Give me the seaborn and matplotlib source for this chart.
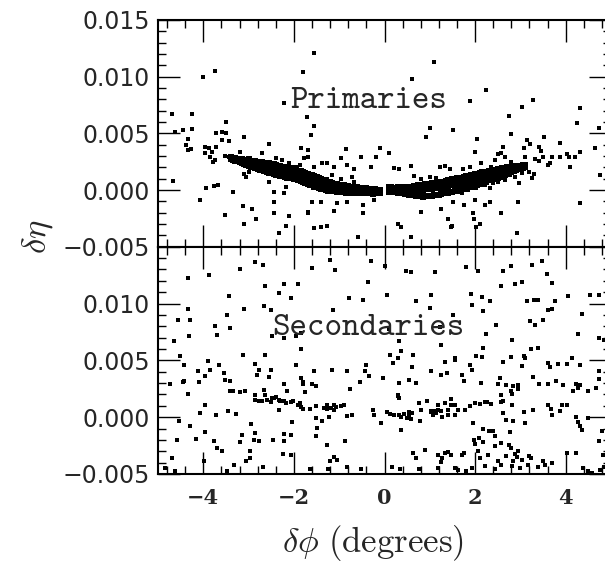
import pandas as pd
import seaborn as sns
import matplotlib.pyplot as plt
from matplotlib.ticker import MultipleLocator, FuncFormatter

# eta values are in units of 1e-3 (converted when plotted)

# dense band of the primaries: (dphi, eta upper, eta middle, eta lower)
band_left = [
    (-3.40, 2.90, 2.80, 2.72), (-3.35, 2.85, 2.75, 2.66), (-3.30, 2.82, 2.70, 2.58),
    (-3.25, 2.78, 2.65, 2.52), (-3.20, 2.75, 2.60, 2.45), (-3.15, 2.70, 2.55, 2.38),
    (-3.10, 2.68, 2.48, 2.30), (-3.05, 2.65, 2.45, 2.22), (-3.00, 2.70, 2.40, 2.10),
    (-2.95, 2.60, 2.35, 2.05), (-2.90, 2.60, 2.30, 2.00), (-2.85, 2.55, 2.20, 1.95),
    (-2.80, 2.50, 2.20, 1.85), (-2.75, 2.45, 2.15, 1.80), (-2.70, 2.45, 2.10, 1.75),
    (-2.65, 2.40, 2.05, 1.65), (-2.60, 2.40, 2.00, 1.60), (-2.55, 2.35, 1.95, 1.50),
    (-2.50, 2.30, 1.90, 1.50), (-2.45, 2.30, 1.85, 1.40), (-2.40, 2.25, 1.80, 1.35),
    (-2.35, 2.15, 1.75, 1.30), (-2.30, 2.15, 1.70, 1.25), (-2.25, 2.05, 1.65, 1.20),
    (-2.20, 2.05, 1.60, 1.15), (-2.15, 1.95, 1.55, 1.10), (-2.10, 1.95, 1.55, 1.05),
    (-2.05, 1.90, 1.50, 1.05), (-2.00, 1.85, 1.45, 1.00), (-1.95, 1.75, 1.35, 0.95),
    (-1.90, 1.70, 1.30, 0.85), (-1.85, 1.65, 1.20, 0.80), (-1.80, 1.60, 1.15, 0.70),
    (-1.75, 1.50, 1.05, 0.65), (-1.70, 1.45, 1.00, 0.55), (-1.65, 1.35, 0.95, 0.45),
    (-1.60, 1.30, 0.85, 0.40), (-1.55, 1.20, 0.80, 0.30), (-1.50, 1.15, 0.70, 0.25),
    (-1.45, 1.05, 0.65, 0.15), (-1.40, 0.95, 0.55, 0.10), (-1.35, 0.90, 0.50, 0.05),
    (-1.30, 0.85, 0.45, 0.00), (-1.25, 0.75, 0.40, -0.05), (-1.20, 0.70, 0.35, -0.10),
    (-1.15, 0.60, 0.30, -0.10), (-1.10, 0.55, 0.25, -0.10), (-1.05, 0.50, 0.20, -0.15),
    (-1.00, 0.45, 0.15, -0.15), (-0.95, 0.45, 0.10, -0.20), (-0.90, 0.40, 0.10, -0.20),
    (-0.85, 0.35, 0.05, -0.25), (-0.80, 0.35, 0.05, -0.25), (-0.75, 0.30, 0.00, -0.25),
    (-0.70, 0.30, 0.00, -0.30), (-0.65, 0.25, 0.00, -0.30), (-0.60, 0.25, -0.05, -0.30),
    (-0.55, 0.20, -0.05, -0.30), (-0.50, 0.20, -0.05, -0.30), (-0.45, 0.15, -0.05, -0.30),
    (-0.40, 0.15, -0.05, -0.30), (-0.35, 0.10, -0.10, -0.30), (-0.30, 0.10, -0.10, -0.30),
    (-0.25, 0.05, -0.10, -0.35), (-0.20, 0.05, -0.10, -0.30), (-0.15, 0.00, -0.15, -0.30),
    (-0.10, 0.00, -0.15, -0.25),
]
band_right = [
    (0.10, 0.25, 0.05, -0.15), (0.15, 0.25, 0.05, -0.15), (0.20, 0.20, 0.00, -0.20),
    (0.25, 0.20, 0.00, -0.20), (0.30, 0.25, 0.00, -0.25), (0.35, 0.20, -0.05, -0.25),
    (0.40, 0.25, -0.05, -0.30), (0.45, 0.25, -0.05, -0.35), (0.50, 0.25, -0.05, -0.35),
    (0.55, 0.30, -0.05, -0.40), (0.60, 0.30, -0.05, -0.40), (0.65, 0.35, -0.05, -0.45),
    (0.70, 0.35, 0.00, -0.50), (0.75, 0.40, 0.00, -0.55), (0.80, 0.45, 0.00, -0.55),
    (0.85, 0.45, 0.00, -0.60), (0.90, 0.50, 0.05, -0.55), (0.95, 0.50, 0.05, -0.55),
    (1.00, 0.55, 0.05, -0.55), (1.05, 0.60, 0.10, -0.50), (1.10, 0.60, 0.15, -0.45),
    (1.15, 0.65, 0.15, -0.45), (1.20, 0.70, 0.20, -0.40), (1.25, 0.70, 0.25, -0.35),
    (1.30, 0.75, 0.25, -0.30), (1.35, 0.80, 0.30, -0.25), (1.40, 0.85, 0.35, -0.25),
    (1.45, 0.90, 0.40, -0.20), (1.50, 0.95, 0.40, -0.15), (1.55, 1.00, 0.45, -0.10),
    (1.60, 1.05, 0.50, -0.05), (1.65, 1.05, 0.55, 0.00), (1.70, 1.10, 0.60, 0.05),
    (1.75, 1.15, 0.65, 0.10), (1.80, 1.20, 0.70, 0.15), (1.85, 1.25, 0.75, 0.25),
    (1.90, 1.30, 0.80, 0.30), (1.95, 1.35, 0.85, 0.35), (2.00, 1.40, 0.90, 0.40),
    (2.05, 1.45, 0.95, 0.45), (2.10, 1.50, 1.00, 0.55), (2.15, 1.55, 1.05, 0.60),
    (2.20, 1.55, 1.10, 0.70), (2.25, 1.60, 1.15, 0.75), (2.30, 1.65, 1.20, 0.85),
    (2.35, 1.70, 1.25, 0.90), (2.40, 1.75, 1.30, 0.95), (2.45, 1.80, 1.35, 1.05),
    (2.50, 1.85, 1.40, 1.10), (2.55, 1.85, 1.45, 1.15), (2.60, 1.90, 1.55, 1.25),
    (2.65, 1.95, 1.60, 1.30), (2.70, 2.00, 1.65, 1.40), (2.75, 2.05, 1.70, 1.45),
    (2.80, 2.05, 1.80, 1.55), (2.85, 2.05, 1.85, 1.65), (2.90, 2.08, 1.92, 1.74),
    (2.95, 2.12, 1.97, 1.82), (3.00, 2.16, 2.02, 1.90), (3.05, 2.18, 2.07, 1.97),
    (3.10, 2.22, 2.12, 2.04),
]

# isolated primaries (dphi, eta)
prim_scatter = [
    (-4.00, 10.00), (-3.75, 10.50), (-1.81, 10.40), (-2.22, 7.70), (-4.70, 6.70), (-4.24, 6.70),
    (-3.50, 6.00), (-4.62, 5.10), (-4.44, 5.30), (-4.24, 5.35), (-3.72, 5.00), (-3.59, 5.15),
    (-3.49, 5.00), (-3.11, 4.70), (-3.59, 4.40), (-3.43, 4.35), (-4.33, 4.50), (-4.39, 3.97),
    (-4.33, 3.50), (-4.27, 3.60), (-3.97, 3.76), (-3.88, 3.68), (-3.71, 3.82), (-3.81, 3.38),
    (-3.96, 3.24), (-3.85, 2.94), (-3.75, 2.65), (-3.79, 2.44), (-3.18, 3.38), (-2.70, 3.24),
    (-2.55, 4.03), (-3.52, 3.00), (-3.44, 2.88), (-2.40, 2.80), (-2.27, 2.65), (-2.11, 2.41),
    (-1.96, 2.06), (-1.87, 2.18), (-1.78, 1.62), (-1.67, 1.32), (-1.85, 3.74), (-1.70, 2.94),
    (-3.11, 1.41), (-3.00, 1.62), (-3.06, 1.18), (-2.55, 0.74), (-2.44, -0.15), (-2.22, -0.29),
    (-2.17, 0.29), (-4.68, 0.82), (-3.94, 0.15), (-3.77, 0.38), (-3.68, 0.44), (-3.35, -0.20),
    (-4.07, -0.88), (-3.13, -1.38), (-2.92, -1.71), (-2.44, -1.03), (-2.83, -2.59), (-3.53, -2.21),
    (-2.44, -2.06), (-2.11, -2.29), (-2.32, -3.82), (-2.17, -3.18), (-3.11, -3.00), (-1.68, -1.91),
    (-1.56, 12.06), (1.10, 11.30), (0.61, 9.76), (-1.72, 6.47), (-1.56, 5.65), (-1.63, 4.85),
    (1.00, 5.44), (1.51, 5.30), (0.92, 4.65), (-1.70, 3.53), (-0.85, 3.59), (-0.11, 3.68),
    (0.09, 3.29), (-1.78, 2.79), (-0.96, 2.79), (-0.52, 2.88), (-0.19, 2.88), (-1.56, 2.06),
    (-1.39, 2.35), (-1.27, 2.41), (-1.11, 2.06), (-0.82, 2.21), (-0.67, 1.82), (-0.30, 2.06),
    (0.22, 1.91), (0.31, 1.82), (0.59, 2.12), (1.22, 2.06), (1.33, 2.12), (1.44, 1.82),
    (0.66, 1.24), (0.81, 0.94), (1.00, 1.18), (1.14, 1.03), (1.25, 0.82), (-1.15, 1.32),
    (-0.96, 0.94), (-0.71, 1.18), (-0.67, 0.74), (-1.59, -1.03), (-1.41, -1.03), (-1.04, -1.18),
    (-0.82, -1.03), (-0.48, -1.32), (-0.23, -0.88), (-1.70, -2.00), (-1.11, -1.82), (-0.48, -2.00),
    (0.80, -1.91), (1.25, -1.71), (1.40, -2.59), (-1.56, -3.38), (-1.41, -3.29), (-1.27, -3.18),
    (0.29, -3.00), (0.37, -3.24), (0.59, -4.12), (-0.59, -4.12), (1.48, -3.18),
    (2.25, 8.82), (1.88, 7.88), (3.28, 7.94), (3.04, 7.29), (2.74, 6.56), (4.32, 7.21),
    (4.25, 5.88), (2.80, 4.94), (2.05, 4.50), (3.53, 4.71), (3.14, 4.41), (3.21, 4.06),
    (2.62, 3.76), (2.57, 3.24), (2.51, 3.18), (1.99, 3.38), (3.09, 3.68), (3.40, 3.82),
    (3.46, 3.47), (3.88, 4.12), (3.11, 2.94), (3.32, 2.71), (3.41, 2.59), (3.51, 2.88),
    (3.69, 2.88), (4.02, 3.18), (4.08, 2.94), (4.21, 2.94), (4.32, 3.38), (3.65, 2.41),
    (3.61, 2.21), (4.10, 2.00), (3.88, 2.88), (4.65, 3.68), (4.73, 5.44), (4.76, 1.32),
    (4.32, -1.12), (1.51, -1.03), (1.75, -1.32), (1.99, -0.88), (2.22, -1.32), (2.33, -1.03),
    (2.58, -2.00), (2.94, -1.03), (1.96, -2.00), (1.98, -2.59), (2.10, -3.00), (2.01, -3.24),
    (2.92, -3.76), (1.47, -3.24), (1.70, -0.29), (1.84, 0.00), (2.03, 0.15), (2.21, 0.44),
    (2.40, 0.59), (2.32, 0.15), (2.51, 0.74), (2.67, 0.88), (2.88, 1.18), (3.03, 1.47),
    (3.18, 1.62), (3.31, 1.41), (3.25, 1.03), (2.96, 0.59), (1.73, 1.82), (1.88, 2.06),
    (2.14, 2.35), (2.36, 2.06), (2.43, 2.65), (2.66, 2.88), (2.79, 2.50),
]

# secondaries (dphi, eta)
sec_scatter = [
    (-4.33, 12.24), (-3.87, 12.48), (-3.18, 13.06), (-2.86, 13.65), (-2.69, 13.35),
    (-3.44, 10.63), (-2.63, 11.51), (-2.22, 11.71), (-1.91, 11.71), (-2.33, 10.92), (-2.07, 10.48),
    (-4.34, 9.51), (-3.11, 9.51), (-2.66, 9.75), (-2.51, 9.45), (-4.55, 8.57), (-4.29, 8.57),
    (-3.48, 8.96), (-3.74, 7.99), (-3.42, 7.84), (-3.70, 7.26), (-4.31, 7.11), (-2.48, 7.11),
    (-2.22, 6.96), (-1.96, 7.11), (-4.64, 6.73), (-1.85, 6.02), (-3.13, 5.50), (-2.64, 5.50),
    (-4.51, 5.35), (-4.42, 4.62), (-3.90, 4.91), (-3.66, 4.62), (-2.86, 4.67), (-1.96, 4.56),
    (-4.12, 4.09), (-3.96, 3.59), (-3.55, 3.88), (-3.85, 4.18), (-2.76, 4.18), (-2.51, 4.18),
    (-2.81, 3.68), (-2.54, 3.50), (-4.42, 3.21), (-4.44, 3.09), (-4.73, 2.91), (-4.10, 3.09),
    (-3.53, 3.30), (-3.41, 3.15), (-2.22, 2.91), (-1.81, 3.09), (-4.34, 2.04), (-3.42, 2.33),
    (-3.35, 2.27), (-3.18, 2.21), (-3.07, 2.27), (-2.85, 1.98), (-2.66, 2.42), (-2.64, 1.92),
    (-2.48, 1.68), (-2.33, 1.54), (-2.22, 1.39), (-2.15, 2.33), (-2.07, 1.33), (-2.03, 1.45),
    (-1.92, 1.10), (-1.87, 1.24), (-2.34, 0.66), (-1.81, 0.74), (-2.85, 1.54), (-2.78, 1.45),
    (-2.70, 1.39), (-2.59, 1.54), (-2.51, 1.33), (-2.44, 1.68), (-2.39, 1.74), (-2.31, 1.45),
    (-2.18, 1.24), (-3.97, 1.10), (-3.45, 0.57), (-3.27, 0.28), (-4.07, 0.36), (-3.72, 0.16),
    (-4.53, -0.37), (-2.94, -0.60), (-2.05, -0.43), (-4.29, -0.81), (-3.96, -1.31), (-4.16, -1.89),
    (-4.59, -2.04), (-3.15, -1.54), (-2.85, -1.40), (-2.89, -1.98), (-2.78, -2.07), (-2.47, -1.98),
    (-2.22, -1.48), (-2.07, -1.60), (-2.22, -2.13), (-3.77, -2.07), (-3.70, -2.72), (-3.59, -3.01),
    (-3.18, -2.19), (-2.96, -2.95), (-3.06, -3.83), (-2.98, -3.60), (-4.70, -3.60), (-3.99, -3.83),
    (-3.33, -4.24), (-2.24, -3.24), (-2.07, -3.30), (-4.85, -4.47), (-4.62, -4.77), (-3.47, -4.71),
    (-2.69, -4.42),
    (-1.20, 13.85), (-0.30, 13.71), (0.00, 13.27), (-1.59, 13.12), (-1.10, 12.97), (0.48, 12.89),
    (0.59, 12.77), (1.11, 12.77), (-0.37, 11.89), (-0.78, 10.48), (-0.48, 10.33), (0.05, 10.72),
    (0.70, 10.19), (1.02, 10.72), (-1.13, 9.45), (1.00, 9.60), (1.51, 9.01), (0.09, 7.78),
    (1.22, 7.90), (-1.85, 7.40), (0.33, 6.73), (0.13, 5.50), (0.37, 5.79), (0.29, 5.20),
    (0.63, 5.44), (0.18, 4.76), (1.25, 6.38), (1.55, 5.20), (1.34, 4.85), (-1.56, 4.09),
    (-1.17, 4.18), (-0.82, 4.09), (-0.41, 4.56), (-0.43, 4.03), (-0.34, 3.59), (0.60, 4.38),
    (1.03, 4.09), (1.37, 3.88), (1.24, 3.74), (-1.85, 3.44), (-1.79, 2.91), (-1.59, 2.91),
    (-1.52, 2.71), (-0.54, 3.09), (-0.04, 3.44), (0.31, 3.00), (0.55, 3.30), (0.70, 3.00),
    (-1.76, 2.21), (-0.76, 2.50), (0.29, 1.98), (0.31, 1.68), (-1.85, 0.86), (-1.64, 0.74),
    (-1.52, 0.95), (-1.33, 0.80), (-1.26, 0.74), (-1.18, 0.80), (-1.11, 0.66), (-1.07, 0.86),
    (-0.97, 0.95), (-0.90, 1.04), (-1.27, 1.10), (-1.11, 1.10), (-1.52, -0.08), (-1.37, -0.31),
    (-1.22, -0.02), (-0.82, 0.07), (-0.71, 0.22), (-0.26, 0.66), (-0.24, 0.22), (0.05, 0.45),
    (0.13, 0.28), (0.22, 0.16), (0.33, 0.22), (0.44, 0.28), (0.50, -0.08), (0.55, 0.22),
    (0.60, 0.36), (0.53, 0.45), (0.59, -0.13), (0.37, -0.02), (-0.08, -0.52), (0.77, 1.24),
    (0.81, 0.66), (0.79, -0.31), (0.94, 1.39), (1.02, 0.57), (1.07, 0.22), (1.14, 0.36),
    (1.18, 1.10), (1.24, 0.51), (1.33, 1.24), (1.40, 0.66), (1.47, 1.10), (1.55, 0.22),
    (1.40, 0.22), (1.27, -0.02), (1.03, 0.45), (1.10, 0.57), (1.18, 0.66), (0.29, 1.83),
    (0.37, -1.10), (-1.50, -0.96), (-1.52, -1.69), (-0.88, -2.07), (-1.26, -2.42), (-1.11, -3.54),
    (-1.20, -3.89), (-1.04, -3.74), (0.63, -3.16), (0.70, -3.60), (0.90, -2.86), (1.18, -3.30),
    (1.33, -3.16), (1.26, -3.60), (1.40, -3.07), (-1.64, -4.53), (-1.24, -4.53), (-0.82, -4.42),
    (-0.51, -4.53), (0.16, -4.42), (0.35, -4.53), (0.77, -4.53), (1.18, -4.47), (1.25, -3.95),
    (1.81, 13.18), (2.07, 12.83), (2.62, 12.89), (2.79, 13.27), (3.25, 13.35), (3.47, 13.77),
    (3.58, 12.59), (3.69, 11.80), (2.58, 11.51), (2.88, 11.71), (3.04, 11.89), (1.92, 10.83),
    (2.16, 10.54), (2.33, 10.19), (1.93, 9.89), (3.14, 10.19), (3.31, 10.33), (3.38, 10.33),
    (3.62, 9.45), (3.69, 9.54), (3.76, 10.19), (4.06, 10.63), (4.54, 10.77), (4.73, 10.77),
    (4.35, 9.07), (2.18, 9.37), (3.21, 8.49), (3.51, 8.57), (3.32, 8.13), (2.47, 8.13),
    (2.25, 7.31), (2.82, 6.82), (4.27, 7.31), (4.73, 6.96), (4.84, 6.82), (2.18, 6.08),
    (3.23, 6.02), (3.38, 6.08), (3.07, 5.35), (3.10, 5.20), (2.03, 5.35), (2.15, 5.26),
    (1.56, 5.06), (1.88, 4.56), (2.62, 4.85), (2.79, 5.26), (3.03, 4.47), (3.62, 4.76),
    (3.66, 4.38), (3.84, 4.67), (4.02, 4.67), (4.14, 5.20), (4.32, 4.62), (4.73, 4.03),
    (1.70, 3.74), (1.93, 4.18), (2.55, 3.44), (2.12, 3.00), (1.75, 3.21), (2.51, 2.91),
    (2.69, 2.86), (2.84, 2.71), (2.95, 2.80), (3.28, 3.50), (3.41, 2.91), (3.62, 2.91),
    (3.78, 3.21), (3.95, 2.86), (4.28, 2.56), (4.22, 2.91), (4.32, 2.80), (4.17, 2.33),
    (4.49, 2.33), (4.73, 3.38), (4.66, 2.56), (1.47, 1.62), (1.55, 1.10), (1.62, 0.66),
    (1.77, 0.66), (1.88, 0.95), (1.99, 1.24), (2.10, 1.15), (2.21, 1.33), (2.27, 1.33),
    (2.35, 1.15), (2.58, 1.33), (2.62, 1.45), (2.82, 1.10), (2.57, 1.98), (2.81, 2.04),
    (2.79, 2.33), (2.95, 2.50), (2.62, 0.36), (2.69, -0.22), (2.84, -0.31), (3.07, 0.45),
    (3.62, 1.04), (3.68, 0.74), (3.88, 0.57), (3.91, 1.10), (4.02, 1.10), (3.69, 0.22),
    (4.22, -0.02), (4.27, -0.43), (3.10, -0.52), (3.28, 0.66), (1.96, -0.52), (2.18, -1.01),
    (2.30, -1.19), (2.40, -1.25), (2.43, -1.69), (2.08, -1.84), (2.77, -1.31), (1.98, -1.98),
    (2.00, -2.36), (2.18, -2.19), (2.43, -2.57), (2.58, -2.28), (2.74, -2.42), (2.80, -2.72),
    (2.95, -2.95), (2.88, -3.24), (4.32, -0.81), (4.37, -1.10), (4.49, -0.08), (4.80, -1.19),
    (1.47, -3.30), (1.70, -3.30), (1.76, -3.16), (2.07, -2.95), (2.10, -3.60), (2.29, -3.30),
    (2.51, -3.83), (2.69, -3.45), (2.84, -3.89), (2.92, -3.54), (3.03, -3.74), (3.19, -3.45),
    (3.24, -3.60), (3.51, -3.89), (3.69, -4.03), (4.02, -3.16), (4.22, -3.16), (4.73, -2.13),
    (4.82, -3.30), (1.55, -4.47), (1.62, -4.62), (1.81, -4.77), (1.93, -4.47), (2.21, -4.33),
    (2.43, -4.53), (2.57, -4.18), (2.81, -4.33), (2.99, -4.47), (3.17, -4.24), (3.38, -4.42),
    (3.54, -4.24), (3.70, -4.03), (4.39, -4.47), (4.50, -4.77), (4.58, -4.90), (4.76, -4.62),
    (4.84, -4.42),
]

panel_names = ['Primaries', 'Secondaries']
x_major = [-4, -2, 0, 2, 4]

# build tables
band_rows = []
for band in (band_left, band_right):
    for x, hi, mid, lo in band:
        for y in (hi, mid, lo):
            band_rows.append((x, y))
df_band = pd.DataFrame(band_rows, columns=['dphi', 'deta'])
df_band['deta'] = df_band['deta'] * 1e-3
df_prim = pd.DataFrame(prim_scatter, columns=['dphi', 'deta'])
df_prim['deta'] = df_prim['deta'] * 1e-3
df_sec = pd.DataFrame(sec_scatter, columns=['dphi', 'deta'])
df_sec['deta'] = df_sec['deta'] * 1e-3

sns.set_style('ticks')
plt.rcParams['font.family'] = ['DejaVu Sans']
plt.rcParams['mathtext.fontset'] = 'cm'

fig = plt.figure(figsize=(6.05, 5.68), dpi=100)
ax_top = fig.add_axes([0.2612, 0.5657, 0.7487, 0.3991])
ax_bot = fig.add_axes([0.2612, 0.1655, 0.7487, 0.4002])

# the dense band of primaries
sns.scatterplot(data=df_band, x='dphi', y='deta', ax=ax_top, marker='s', s=16,
                color='black', linewidth=0, legend=False)

for ax, df, name in ((ax_top, df_prim, panel_names[0]), (ax_bot, df_sec, panel_names[1])):
    sns.scatterplot(data=df, x='dphi', y='deta', ax=ax, marker='s', s=5,
                    color='black', linewidth=0, legend=False)
    ax.set_xlim(-5, 5)
    ax.set_ylim(-0.005, 0.015)
    ax.set_xlabel('')
    ax.set_ylabel('')
    ax.set_xticks(x_major)
    ax.xaxis.set_minor_locator(MultipleLocator(0.4))
    ax.yaxis.set_major_locator(MultipleLocator(0.005))
    ax.yaxis.set_minor_locator(MultipleLocator(0.001))
    ax.tick_params(which='both', direction='in', top=True, right=True, width=1.0, color='black')
    ax.tick_params(which='major', length=16, labelsize=17, pad=6)
    ax.tick_params(which='minor', length=5.5)
    for sp in ax.spines.values():
        sp.set_linewidth(1.5)
        sp.set_color('black')
    ax.text(-0.36, 0.00722, name, family='cmtt10', fontsize=24, ha='center', va='baseline')

ax_top.yaxis.set_major_formatter(FuncFormatter(lambda v, p: f'{v:.3f}'.replace('-', '\u2212')))
ax_bot.yaxis.set_major_formatter(FuncFormatter(
    lambda v, p: '' if v > 0.0124 else f'{v:.3f}'.replace('-', '\u2212')))
ax_top.tick_params(labelbottom=False)
ax_bot.xaxis.set_major_formatter(FuncFormatter(lambda v, p: f'{round(v)}'.replace('-', '\u2212')))
ax_bot.tick_params(axis='x', which='major', pad=10)
for lab in ax_bot.get_xticklabels():
    lab.set_family('DejaVu Serif')
    lab.set_fontweight('bold')
    lab.set_fontsize(15)

fig.text(373 / 605, 1 - 543 / 568, r'$\delta\phi\ \mathrm{(degrees)}$',
         ha='center', va='center', fontsize=25)
fig.text(38 / 605, 1 - 237 / 568, r'$\delta\eta$', rotation=90,
         ha='center', va='center', fontsize=25)

fig.savefig('out.png', dpi=100)
